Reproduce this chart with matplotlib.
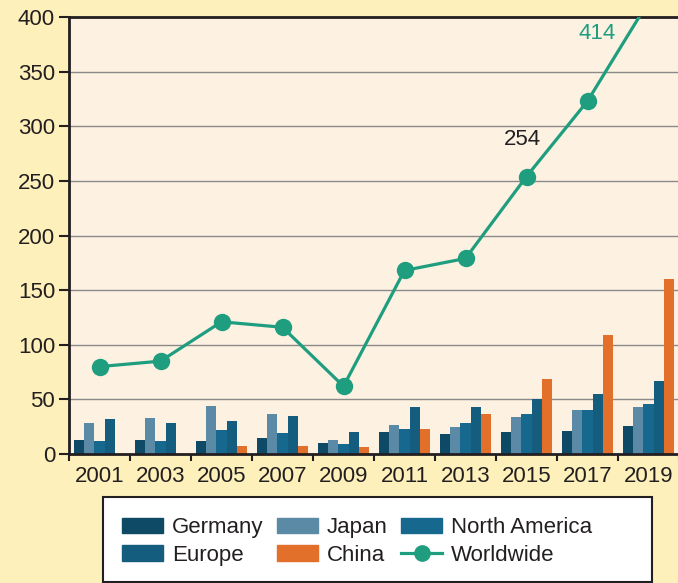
import matplotlib
matplotlib.use("Agg")
import matplotlib.pyplot as plt
from matplotlib.patches import Patch, Rectangle
from matplotlib.lines import Line2D
import numpy as np

plt.rcParams['font.family'] = ['Liberation Sans', 'DejaVu Sans']

years = ["2001", "2003", "2005", "2007", "2009", "2011", "2013", "2015", "2017", "2019"]
germany = [13, 13, 12, 15, 10, 20, 18, 20, 21, 26]
japan = [28, 33, 44, 37, 13, 27, 25, 34, 40, 43]
north_america = [12, 12, 22, 19, 9, 23, 28, 37, 40, 46]
europe = [32, 28, 30, 35, 20, 43, 43, 50, 55, 67]
china = [0, 0, 7, 7, 6, 23, 37, 69, 109, 160]
worldwide = [80, 85, 121, 116, 62, 168, 179, 254, 323, 414]

series_names = ["Germany", "Japan", "North America", "Europe", "China"]
series_vals = [germany, japan, north_america, europe, china]
colors = ["#0e4a65", "#5b8aa6", "#16688f", "#155d7e", "#e2702a"]
green = "#1f9e7f"
text_col = "#231f20"
FS = 16

fig = plt.figure(figsize=(6.78, 5.83), dpi=100)
fig.patch.set_facecolor("#fdf0ba")
ax = fig.add_axes([69/678, 1-454/583, 610/678, (454-17)/583])
ax.set_facecolor("#fdf1e2")

x = np.arange(len(years))
bw = 0.164
for i, (vals, c) in enumerate(zip(series_vals, colors)):
    ax.bar(x + (i - 2) * bw, vals, width=bw, color=c, zorder=2, linewidth=0)

ax.plot(x, worldwide, color=green, lw=2.3, marker='o', markersize=11.5, zorder=3, clip_on=True)
ax.text(6.93, 288, "254", color=text_col, fontsize=FS, ha='center', va='center')
ax.text(8.16, 385, "414", color=green, fontsize=FS, ha='center', va='center')

ax.set_xlim(-0.5, 9.5)
ax.set_ylim(0, 400)
ax.set_yticks(range(0, 401, 50))
ax.set_yticklabels([str(v) for v in range(0, 401, 50)], fontsize=FS, color=text_col)
for yv in range(50, 400, 50):
    ax.axhline(yv, color="#8a8a8a", lw=1.0, zorder=1)

ax.set_xticks(np.arange(-0.5, 10, 1.0))
ax.set_xticklabels([])
ax.set_xticks(x, minor=True)
ax.set_xticklabels(years, minor=True, fontsize=FS, color=text_col)
ax.tick_params(axis='x', which='minor', length=0, pad=8.5)
ax.tick_params(axis='x', which='major', length=5, width=1.5, color="#231f20", direction='out')
ax.tick_params(axis='y', length=7, width=1.5, color="#231f20", pad=3)

for s in ["left", "bottom", "top"]:
    ax.spines[s].set_linewidth(2)
    ax.spines[s].set_color("#231f20")
ax.spines["right"].set_visible(False)

# legend box
fig.patches.append(Rectangle((103/678, 1-582/583), (652-103)/678, (582-497)/583,
                             transform=fig.transFigure, facecolor="white",
                             edgecolor="#231f20", lw=1.5, zorder=0))
handles = [Patch(color=colors[0]), Patch(color=colors[3]),
           Patch(color=colors[1]), Patch(color=colors[4]),
           Patch(color=colors[2]),
           Line2D([], [], color=green, lw=2.3, marker='o', markersize=11)]
labels = ["Germany", "Europe", "Japan", "China", "North America", "Worldwide"]
leg = fig.legend(handles, labels, ncol=3, loc='upper left',
                 bbox_to_anchor=(122/678, 1-517/583), frameon=False,
                 fontsize=FS, handlelength=1.85, handleheight=0.68,
                 handletextpad=0.4, columnspacing=0.6, labelspacing=0.3,
                 borderpad=0, borderaxespad=0)
for t in leg.get_texts():
    t.set_color(text_col)

fig.savefig("out.png", dpi=100, facecolor=fig.get_facecolor())
